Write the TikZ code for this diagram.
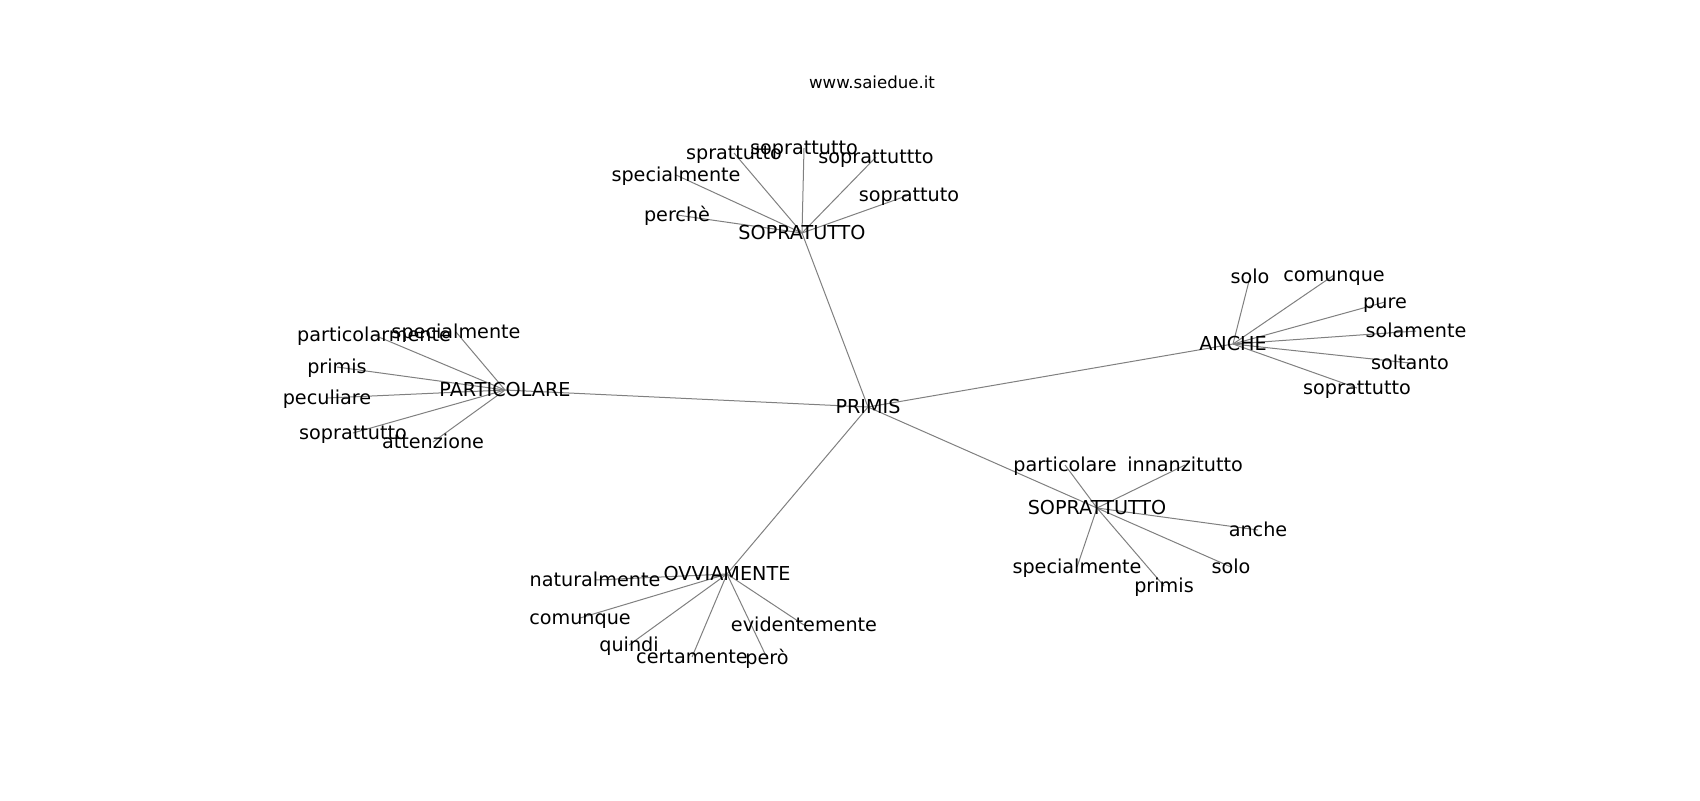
\documentclass[tikz,border=0pt]{standalone}
\usepackage{fontspec}
\setmainfont{DejaVu Sans}
\begin{document}
\begin{tikzpicture}[x=0.5pt,y=-0.5pt,
  lbl/.style={inner sep=0pt,font=\fontsize{9.6pt}{11pt}\selectfont,text height=0.84em,text depth=0.16em,anchor=center},
  ttl/.style={inner sep=0pt,font=\fontsize{8.3pt}{10pt}\selectfont,text height=0.84em,text depth=0.16em,anchor=center},
  edge/.style={draw={rgb,255:red,128;green,128;blue,128},line width=0.5pt}]
\useasboundingbox[fill=white] (0,0) rectangle (1700,800);
% coordinates of nodes
\coordinate (p) at (868,407);
\coordinate (s1) at (802,233);
\coordinate (pa) at (505,390);
\coordinate (an) at (1233,344);
\coordinate (s2) at (1097,508);
\coordinate (ov) at (727,574);
% SOPRATUTTO leaves
\coordinate (s1a) at (734,153);
\coordinate (s1b) at (804,148);
\coordinate (s1c) at (876,157);
\coordinate (s1d) at (909,195);
\coordinate (s1e) at (676,175);
\coordinate (s1f) at (677,215);
% PARTICOLARE leaves
\coordinate (paa) at (374,335);
\coordinate (pab) at (456,332);
\coordinate (pac) at (337,367);
\coordinate (pad) at (327,398);
\coordinate (pae) at (353,433);
\coordinate (paf) at (433,442);
% ANCHE leaves
\coordinate (ana) at (1250,277);
\coordinate (anb) at (1334,275);
\coordinate (anc) at (1385,302);
\coordinate (and) at (1416,331);
\coordinate (ane) at (1410,363);
\coordinate (anf) at (1357,388);
% SOPRATTUTTO leaves
\coordinate (s2a) at (1065,465);
\coordinate (s2b) at (1185,465);
\coordinate (s2c) at (1258,530);
\coordinate (s2d) at (1231,567);
\coordinate (s2e) at (1164,586);
\coordinate (s2f) at (1077,567);
% OVVIAMENTE leaves
\coordinate (ova) at (595,580);
\coordinate (ovb) at (580,618);
\coordinate (ovc) at (629,645);
\coordinate (ovd) at (692,657);
\coordinate (ove) at (767,658);
\coordinate (ovf) at (804,625);
% edges
\foreach \h in {s1,pa,an,s2,ov} \draw[edge] (p) -- (\h);
\foreach \l in {s1a,s1b,s1c,s1d,s1e,s1f} \draw[edge] (s1) -- (\l);
\foreach \l in {paa,pab,pac,pad,pae,paf} \draw[edge] (pa) -- (\l);
\foreach \l in {ana,anb,anc,and,ane,anf} \draw[edge] (an) -- (\l);
\foreach \l in {s2a,s2b,s2c,s2d,s2e,s2f} \draw[edge] (s2) -- (\l);
\foreach \l in {ova,ovb,ovc,ovd,ove,ovf} \draw[edge] (ov) -- (\l);
% labels
\node[ttl] (title) at (872,82) {www.saiedue.it};
\node[lbl] (Lp) at (p) {PRIMIS};
\node[lbl] (Ls1) at (s1) {SOPRATUTTO};
\node[lbl] (Lpa) at (pa) {PARTICOLARE};
\node[lbl] (Lan) at (an) {ANCHE};
\node[lbl] (Ls2) at (s2) {SOPRATTUTTO};
\node[lbl] (Lov) at (ov) {OVVIAMENTE};
\node[lbl] (Ls1a) at (s1a) {sprattutto};
\node[lbl] (Ls1b) at (s1b) {soprattutto};
\node[lbl] (Ls1c) at (s1c) {soprattuttto};
\node[lbl] (Ls1d) at (s1d) {soprattuto};
\node[lbl] (Ls1e) at (s1e) {specialmente};
\node[lbl] (Ls1f) at (s1f) {perchè};
\node[lbl] (Lpaa) at (paa) {particolarmente};
\node[lbl] (Lpab) at (pab) {specialmente};
\node[lbl] (Lpac) at (pac) {primis};
\node[lbl] (Lpad) at (pad) {peculiare};
\node[lbl] (Lpae) at (pae) {soprattutto};
\node[lbl] (Lpaf) at (paf) {attenzione};
\node[lbl] (Lana) at (ana) {solo};
\node[lbl] (Lanb) at (anb) {comunque};
\node[lbl] (Lanc) at (anc) {pure};
\node[lbl] (Land) at (and) {solamente};
\node[lbl] (Lane) at (ane) {soltanto};
\node[lbl] (Lanf) at (anf) {soprattutto};
\node[lbl] (Ls2a) at (s2a) {particolare};
\node[lbl] (Ls2b) at (s2b) {innanzitutto};
\node[lbl] (Ls2c) at (s2c) {anche};
\node[lbl] (Ls2d) at (s2d) {solo};
\node[lbl] (Ls2e) at (s2e) {primis};
\node[lbl] (Ls2f) at (s2f) {specialmente};
\node[lbl] (Lova) at (ova) {naturalmente};
\node[lbl] (Lovb) at (ovb) {comunque};
\node[lbl] (Lovc) at (ovc) {quindi};
\node[lbl] (Lovd) at (ovd) {certamente};
\node[lbl] (Love) at (ove) {però};
\node[lbl] (Lovf) at (ovf) {evidentemente};
\end{tikzpicture}
\end{document}
